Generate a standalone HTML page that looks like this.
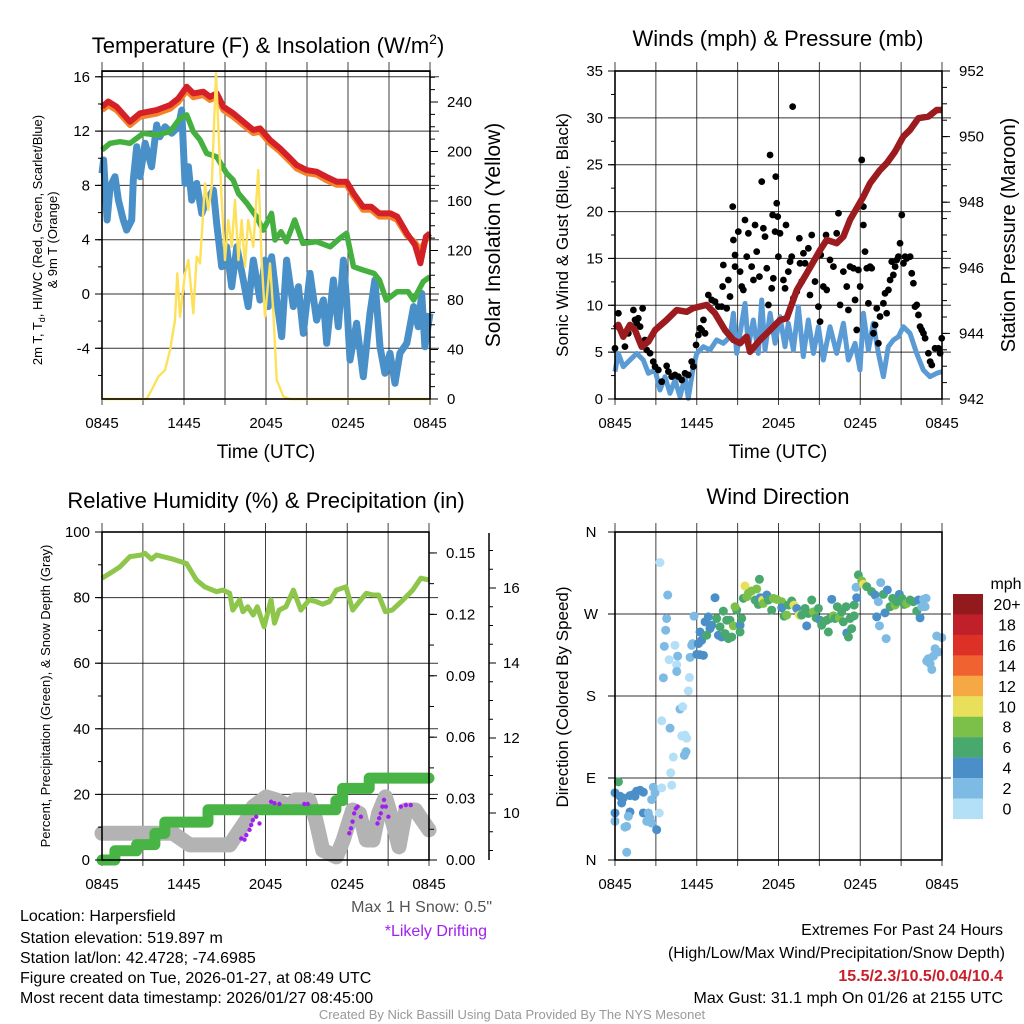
<!DOCTYPE html>
<html><head><meta charset="utf-8"><title>Harpersfield Meteogram</title>
<style>
html,body{margin:0;padding:0;background:#fff;}
svg{display:block;font-family:"Liberation Sans",Arial,sans-serif;}
</style></head>
<body>
<svg id="chart" width="1024" height="1024" viewBox="0 0 1024 1024" xmlns="http://www.w3.org/2000/svg">
<rect x="0" y="0" width="1024" height="1024" fill="#fff"/>
<text x="268" y="53" font-size="22" text-anchor="middle">Temperature (F) &amp; Insolation (W/m<tspan font-size="14" dy="-9">2</tspan><tspan dy="9">)</tspan></text>
<text x="778" y="46" font-size="22" text-anchor="middle">Winds (mph) &amp; Pressure (mb)</text>
<text x="266" y="508" font-size="22" text-anchor="middle">Relative Humidity (%) &amp; Precipitation (in)</text>
<text x="778" y="504" font-size="22" text-anchor="middle">Wind Direction</text>
<text transform="translate(42,240) rotate(-90)" font-size="13" text-anchor="middle">2m T, T<tspan font-size="9" dy="3">d</tspan><tspan dy="-3">, HI/WC (Red, Green, Scarlet/Blue)</tspan></text>
<text transform="translate(57,240) rotate(-90)" font-size="13" text-anchor="middle">&amp; 9m T (Orange)</text>
<text transform="translate(500,235) rotate(-90)" font-size="21" text-anchor="middle">Solar Insolation (Yellow)</text>
<text x="266" y="458" font-size="19" text-anchor="middle">Time (UTC)</text>
<text transform="translate(568,235) rotate(-90)" font-size="17" text-anchor="middle">Sonic Wind &amp; Gust (Blue, Black)</text>
<text transform="translate(1015,235) rotate(-90)" font-size="20" text-anchor="middle">Station Pressure (Maroon)</text>
<text x="778" y="458" font-size="19" text-anchor="middle">Time (UTC)</text>
<text transform="translate(50,696) rotate(-90)" font-size="13" text-anchor="middle">Percent, Precipitation (Green), &amp; Snow Depth (Gray)</text>
<text transform="translate(568,697) rotate(-90)" font-size="17" text-anchor="middle">Direction (Colored By Speed)</text>
<text x="1006" y="589" font-size="16" text-anchor="middle">mph</text>
<text x="492" y="912" font-size="16" fill="#555" text-anchor="end">Max 1 H Snow: 0.5"</text>
<text x="487" y="936" font-size="16" fill="#A020F0" text-anchor="end">*Likely Drifting</text>
<text x="20" y="921" font-size="16">Location: Harpersfield</text>
<text x="20" y="943" font-size="16">Station elevation: 519.897 m</text>
<text x="20" y="963" font-size="16">Station lat/lon: 42.4728; -74.6985</text>
<text x="20" y="983" font-size="16">Figure created on Tue, 2026-01-27, at 08:49 UTC</text>
<text x="20" y="1003" font-size="16">Most recent data timestamp: 2026/01/27 08:45:00</text>
<text x="1003" y="935" font-size="16" text-anchor="end">Extremes For Past 24 Hours</text>
<text x="1005" y="958" font-size="16" text-anchor="end">(High/Low/Max Wind/Precipitation/Snow Depth)</text>
<text x="1003" y="981" font-size="16" font-weight="bold" fill="#C8202A" text-anchor="end">15.5/2.3/10.5/0.04/10.4</text>
<text x="1003" y="1003" font-size="16" text-anchor="end">Max Gust: 31.1 mph On 01/26 at 2155 UTC</text>
<text x="512" y="1019" font-size="13" fill="#999" text-anchor="middle">Created By Nick Bassill Using Data Provided By The NYS Mesonet</text>
</svg>
<script>
const timeTickLabels = ["0845","1445","2045","0245","0845"];
const tempT = [0,0.46,1.07,2.05,2.78,4.0,4.98,5.59,6.2,6.68,7.42,7.9,8.39,8.88,9.6,10.34,11.07,11.56,12.29,13.02,13.76,14.24,14.97,15.7,16.4,17.17,17.9,18.4,19.1,19.7,20.3,21.1,21.6,22.3,22.9,23.3,23.7,24];
const temp2m = [13.8,14.17,13.8,12.69,13.31,13.55,13.92,14.41,15.27,14.78,14.9,14.53,14.78,13.8,13.31,12.69,12.08,12.2,11.35,10.73,10.0,9.5,9.13,9.01,8.64,8.27,8.27,7.42,6.43,6.43,5.94,5.94,5.7,4.47,3.61,2.26,4.22,4.47];
const temp9m = [13.55,13.9,13.55,12.45,13.05,13.3,13.65,14.15,15.0,14.5,14.65,14.3,14.5,13.55,13.05,12.45,11.85,11.95,11.1,10.5,9.75,9.25,8.9,8.8,8.4,8.05,8.05,7.2,6.2,6.2,5.7,5.7,5.45,4.3,3.8,3.2,4.0,4.3];
const wcT = [0,0.59,1.32,2.05,3.02,4.0,4.98,5.71,6.2,6.68,7.17,7.66,8.39,9.12,9.6,9.98,10.6,11.3,11.8,12.4,12.66,13.1,13.5,14.1,14.7,15.7,16.7,17.4,17.9,18.4,19.1,19.9,20.3,20.8,21.6,22.4,22.8,23.5,24];
const wcV = [10.61,11.1,11.22,11.1,11.84,11.71,11.96,12.94,13.19,11.96,11.35,10.36,10.11,8.89,8.4,7.42,6.68,5.7,4.71,5.94,3.98,4.59,3.85,5.45,3.73,3.85,3.48,4.1,4.47,2.01,1.77,1.52,1.03,-0.44,0.17,0.17,-0.44,0.91,1.27];
const dewT = [0,0.12,0.37,0.59,0.95,1.2,1.56,1.8,2.17,2.29,2.54,2.78,3.15,3.63,4.0,4.24,4.61,5.1,5.59,5.83,6.07,6.32,6.56,6.93,7.3,7.66,8.15,8.39,8.76,9.12,9.49,9.86,10.34,10.7,11.07,11.56,11.93,12.17,12.41,12.78,13.15,13.51,14.0,14.37,14.73,15.22,15.7,16.2,16.44,16.93,17.29,17.66,17.9,18.15,18.63,19.12,19.61,19.97,20.34,20.7,21.07,21.44,21.8,22.3,22.8,23.14,23.39,23.63,24];
const dewV = [8.89,9.87,5.45,7.9,8.64,6.92,5.45,4.71,5.45,8.4,10.85,8.64,11.1,9.38,12.45,11.59,12.32,11.84,12.32,13.55,8.15,9.38,6.92,8.15,5.94,6.92,7.66,5.18,2.01,3.48,0.54,3.48,1.03,-0.93,2.5,-0.44,2.5,-0.93,2.75,-0.44,-3.14,2.5,-0.93,0.54,-2.9,1.52,-1.92,-0.44,-3.63,1.03,-2.41,2.5,-0.44,-4.86,-2.16,-6.09,-1.42,1.03,-3.88,-5.84,-4.37,-6.58,-4.37,-3.63,-0.93,-2.41,0.05,-3.88,-1.42];
const solarT = [0,3.27,3.63,3.88,4.12,4.37,4.61,4.98,5.34,5.51,5.71,6.07,6.32,6.68,6.93,7.17,7.54,7.78,8.03,8.34,8.51,8.76,9.0,9.24,9.49,9.73,9.98,10.22,10.46,10.7,11.07,11.44,11.68,11.93,12.29,12.54,12.78,13.27,13.76,24];
const solarV = [0,0,7.3,12.7,18.1,20.7,23.4,39.6,63.8,101.6,66.5,101.6,112.3,69.2,115,109.6,174.3,152.7,171.6,263.2,220,160.8,112.3,144.6,123,160.8,112.3,144.6,106.9,144.6,123,185,112.3,66.5,109.6,69.2,15.4,1.9,0,0];
const tempTicks = [16,12,8,4,0,-4];
const solarTicks = [0,40,80,120,160,200,240];
const windT = [0,0.24,0.61,1.1,1.59,2.08,2.45,2.94,3.3,3.67,4.04,4.4,4.77,5.14,5.38,5.75,6.0,6.49,6.97,7.46,7.95,8.44,8.69,8.93,9.3,9.54,9.79,10.15,10.52,10.77,11.01,11.38,11.75,12.11,12.48,12.72,13.09,13.46,13.82,14.19,14.56,14.93,15.29,15.78,16.27,16.76,17.13,17.62,17.98,18.23,18.6,18.96,19.33,19.7,20.06,20.43,20.8,21.16,21.65,22.14,22.63,23.12,23.61,24];
const windV = [2.92,4.87,3.45,4.16,4.87,4.16,2.74,3.09,0.96,2.38,0.61,2.03,0.25,2.38,0.07,3.45,4.87,5.58,5.23,6.3,5.94,6.65,9.15,4.87,8.08,10.2,5.58,8.43,4.87,10.56,5.23,9.15,5.94,8.78,5.58,8.08,5.23,9.85,4.52,8.43,4.87,7.72,4.16,7.72,4.87,8.08,4.16,5.94,3.09,9.15,5.23,8.08,4.87,2.38,5.58,6.3,6.65,7.72,7.01,4.87,3.09,2.38,2.74,2.92];
const gustT = [0,0.25,0.73,0.98,1.35,1.47,1.71,1.84,2.03,1.59,2.2,2.33,2.57,2.81,2.94,3.18,3.43,3.79,3.92,4.16,4.4,4.65,4.9,5.14,5.38,5.63,5.75,5.95,6.12,6.24,6.36,6.61,6.49,6.85,7.1,7.34,7.59,7.83,8.2,7.95,7.9,8.32,8.44,8.64,8.69,8.81,8.81,9.05,9.18,9.3,9.42,9.54,9.67,9.79,10.03,10.16,10.28,10.4,10.6,10.77,10.89,11.01,11.14,11.26,11.38,11.5,11.57,11.62,11.75,11.8,11.87,11.94,11.99,12.11,12.36,12.48,12.55,12.72,12.85,12.97,13.04,13.09,13.34,13.53,13.58,13.7,13.83,13.95,14.19,14.31,14.44,14.68,14.93,15.05,15.1,15.29,15.49,15.54,15.78,16.03,16.27,16.4,16.52,16.76,17.01,17.13,17.25,17.5,17.62,17.74,17.86,17.99,18.11,18.23,18.23,18.35,18.48,18.6,18.72,18.84,18.97,19.09,19.21,19.33,19.45,19.7,19.82,19.94,20.07,20.19,20.31,20.43,20.56,20.68,20.8,20.92,21.05,21.17,21.29,21.41,21.66,21.78,21.9,22.02,22.15,22.27,22.39,22.51,22.64,22.76,23.0,23.13,23.25,23.49,23.74,23.86,23.98];
const gustV = [5.41,9.15,5.59,7.01,9.5,8.44,8.61,7.72,9.68,8.08,6.3,5.23,4.88,3.99,3.46,3.1,1.85,3.53,2.92,2.39,2.57,2.39,2.03,2.74,2.57,3.99,3.46,5.77,6.83,7.55,7.37,7.01,8.44,11.1,10.57,10.39,9.86,9.86,9.68,14.3,12.0,12.7,10.93,20.53,16.97,15.37,14.13,17.86,13.59,12.0,11.64,19.1,15.19,17.68,14.13,12.7,18.57,15.73,13.06,23.2,18.22,17.33,13.95,10.04,26.04,11.81,19.64,12.88,17.86,23.73,20.89,19.46,15.19,17.68,12.7,11.81,18.57,13.59,14.66,15.19,31.2,10.75,11.46,17.15,14.48,12.53,15.55,14.48,16.08,11.1,17.5,12.53,9.86,8.26,15.37,12.0,17.5,11.64,14.84,14.13,17.68,19.82,10.04,13.59,12.0,9.5,14.13,13.95,10.57,7.37,13.77,12.0,25.51,20.53,18.57,15.73,13.95,10.21,14.13,13.95,7.01,7.9,9.68,5.94,8.8,10.21,11.28,9.15,11.64,12.7,14.66,13.24,14.13,14.84,15.19,16.62,19.64,14.48,15.19,15.0,15.19,13.41,12.35,9.86,10.04,8.97,7.72,7.37,7.01,6.48,4.88,3.99,3.63,5.41,5.41,4.88,6.48];
const presT = [0,0.24,0.61,1.1,1.47,1.96,2.45,2.94,3.79,4.53,5.26,5.75,6.73,7.34,8.07,8.69,9.18,9.66,9.91,10.64,11.38,12.11,12.6,13.34,14.07,15.05,15.54,16.27,16.76,17.25,18.23,18.72,19.45,19.94,20.55,21.16,21.65,22.27,23.0,23.61,24];
const presV = [944.15,944.26,943.9,944.26,944.1,943.59,943.75,944.1,944.41,944.71,944.66,944.77,944.87,944.61,944.1,943.8,943.7,943.9,943.44,943.8,944.1,944.41,944.46,945.32,945.83,946.54,946.85,946.75,946.95,947.46,948.17,948.58,948.98,949.19,949.54,950.0,950.2,950.56,950.61,950.81,950.81];
const windTicks = [0,5,10,15,20,25,30,35];
const presTicks = [942,944,946,948,950,952];
const rhT = [0,0.59,1.32,2.05,2.9,3.15,3.63,4.0,5.22,6.2,6.93,7.54,8.4,8.88,9.37,9.6,10.1,10.34,10.7,11.1,11.4,11.9,12.4,12.66,13.0,13.5,14.05,14.6,15.2,15.7,16.2,16.7,17.2,17.9,18.4,18.9,19.4,19.9,20.3,20.8,21.3,22.1,22.8,23.4,24];
const rhV = [85.9,87.4,89.4,92.5,93.0,93.5,91.7,93.0,91.7,90.4,85.4,83.3,81.8,82.3,81.3,76.2,79.3,75.7,77.2,74.7,77.2,71.1,79.3,72.2,76.2,77.2,82.3,76.2,79.3,78.8,78.0,78.8,82.3,83.3,76.2,78.8,81.3,80.8,80.8,75.7,76.2,79.3,82.3,85.9,85.4];
const precipT = [0,0.95,2.54,3.88,4.61,7.78,17.17,17.66,19.61];
const precipV = [0,0.0045,0.0075,0.013,0.0185,0.0245,0.029,0.035,0.04];
const snowT = [0,5.22,6.44,9.37,10.6,11.1,12.05,12.8,13.76,14.2,15.2,15.7,16.2,17.2,17.7,18.4,18.9,19.4,19.9,20.3,20.8,21.3,21.8,22.3,23.0,23.5,24];
const snowV = [9.46,9.46,9.15,9.15,9.81,10.17,10.43,10.35,10.17,10.35,10.35,9.81,9.01,8.83,9.28,10.08,9.99,9.28,9.28,9.99,10.43,9.81,9.1,10.08,10.08,9.81,9.55];
const driftT = [10.22,10.46,10.59,10.83,10.95,11.07,11.32,11.56,12.41,12.66,13.02,14.85,15.1,18.15,18.27,18.39,18.51,18.63,18.76,19.0,20.22,20.34,20.46,20.58,20.7,20.83,21.02,21.93,22.3,22.66];
const driftS = [9.32,9.29,9.41,9.55,9.68,9.81,9.9,9.72,10.3,10.26,10.24,10.24,10.24,9.46,9.59,9.77,9.99,10.12,10.17,9.9,9.72,9.86,9.99,10.17,10.35,10.17,9.9,10.17,10.21,10.21];
const rhTicks = [0,20,40,60,80,100];
const precipTicks = [0,0.03,0.06,0.09,0.12,0.15];
const precipTickLabels = ["0.00","0.03","0.06","0.09","0.12","0.15"];
const snowTicks = [10,12,14,16];
const dirT = [0.25,0,0.37,0.61,0.49,1.1,1.35,1.59,1.84,1.47,2.08,2.81,2.94,2.69,3.43,0,1.1,2.08,2.45,2.57,2.33,2.69,0.86,0.73,0.98,0,3.06,3.25,0.86,
 3.3,3.87,3.79,3.72,3.62,4.4,3.97,4.6,4.53,4.53,5.46,5.38,3.55,3.43,4.04,4.77,4.97,4.9,5.14,5.26,5.21,5.09,4.28,4.09,4.16,
 5.63,5.7,5.51,5.8,6.0,6.24,6.49,6.12,6.24,6.36,6.61,6.85,6.97,6.73,7.1,7.34,7.46,7.59,7.71,7.83,7.95,8.08,8.2,8.32,8.44,8.57,8.69,8.93,8.81,9.18,9.18,9.3,9.42,9.54,9.67,9.79,10.03,10.28,10.4,10.6,10.52,10.65,10.84,10.89,11.14,11.26,11.5,11.62,11.87,12.24,12.24,12.41,12.6,12.72,12.97,13.14,13.34,13.53,13.7,13.95,14.07,14.19,14.44,14.56,14.76,14.93,15.05,15.17,15.29,15.54,15.66,15.78,15.91,16.03,16.15,16.32,16.47,16.64,16.76,16.96,17.01,17.13,17.25,17.37,17.55,17.55,17.74,17.69,17.86,18.11,18.23,18.48,18.84,19.09,19.33,19.5,19.41,19.9,19.21,19.7,19.82,19.99,20.19,20.38,20.56,20.68,20.87,21.05,21.22,21.41,21.66,21.9,22.15,22.27,22.39,22.51,22.64,22.83,22.76,
 23.61,23.98,23.49,23.74,23.0,23.13,23.25,23.37,22.88];
const dirD = [85.8,73.7,70.0,68.1,62.6,70.7,71.8,75.5,76.6,70.0,74.4,79.9,73.7,66.3,79.2,51.6,52.7,51.6,51.6,46.0,42.4,40.5,36.9,36.1,47.9,42.4,33.2,51.6,8.5,
 326.5,290.8,265.1,252.2,234.5,235.6,219.8,223.8,214.3,206.9,200.3,185.6,199.9,152.8,144.7,165.7,168.3,136.2,137.0,133.7,118.9,114.9,113.0,95.7,82.1,
 235.6,237.5,222.4,267.6,225.7,225.3,224.6,237.5,250.3,241.1,261.4,266.9,254,246.7,257.7,287.9,265.1,246.7,255.9,244.8,273.2,248.5,263.2,243,263.2,244.8,257,274.3,278,257.7,250.3,265.1,287.2,300.8,289,292.7,295.3,285.3,297.5,308.1,280.5,287.9,285.3,281.6,290.8,285.3,274.3,287.2,286.1,283.5,276.9,267.6,268.8,279.8,284.2,279.8,276.1,268.8,268.8,276.1,257,270.6,285.3,272.4,265.8,276.1,263.2,257.7,261.4,263.2,250.3,265.1,286.1,268,265.1,278,265.8,272.4,261.4,278,249.2,244.8,265.1,254,268,279.8,287.9,299.3,312.9,306.3,302.6,300,294.5,290.8,283.5,304.5,257,243,266.9,291.6,271.3,296.4,278,287.2,279.8,283.5,291.6,287.2,280.5,281.6,285.3,283.5,273.2,285.3,265.8,278,286.1,287.2,278,
 245.9,244.1,231.9,228.3,220.9,215.4,209.1,223.8,218.3];
const dirS = [7,5,5,5,5,5,5,5,5,5,5,3,3,3,1,5,5,5,3,3,3,3,3,3,3,3,5,1,3,
 1,3,3,3,3,1,1,3,1,3,1,1,3,1,3,3,1,1,1,1,3,3,1,1,1,
 3,3,3,3,5,5,5,5,5,5,5,5,5,7,5,5,7,5,7,5,7,7,7,7,7,7,9,7,9,5,7,7,7,11,9,9,9,7,9,7,7,5,11,9,5,7,7,9,9,9,5,7,9,7,7,11,5,11,7,7,5,7,7,9,7,7,5,7,7,7,7,7,5,9,7,7,9,7,7,7,5,7,7,7,7,7,5,3,7,9,11,7,7,5,3,3,3,3,5,7,5,5,7,7,9,7,5,7,7,9,7,7,7,5,5,3,3,3,3,
 3,3,3,3,3,3,3,3,3];
const dirTicks = [0,90,180,270,360];
const dirTickLabels = ["N","E","S","W","N"];
const cbarLabels = ["20+","18","16","14","12","10","8","6","4","2","0"];
const cbarColors = ["#921A1C","#C0202A","#DD3127","#F0622F","#F6A845","#E8E05A","#7CC04A","#49A86E","#4A8FC7","#7DBAE4","#B4E0F7"];

const NS = "http://www.w3.org/2000/svg";
const svg = document.getElementById("chart");
function el(tag, attrs, name, parent) {
  const e = document.createElementNS(NS, tag);
  for (const k in attrs) e.setAttribute(k, attrs[k]);
  
  
  (parent || svg).appendChild(e);
  return e;
}
function txt(x, y, s, size, anchor, name, fill) {
  const e = el("text", {x: x, y: y, "font-size": size, "text-anchor": anchor, fill: fill || "#000"}, name);
  e.textContent = s;
  return e;
}
function linePath(ts, vs, xf, yf) {
  let d = "";
  for (let i = 0; i < ts.length; i++) d += (i ? "L" : "M") + xf(ts[i]).toFixed(1) + "," + yf(vs[i]).toFixed(1);
  return d;
}
function panel(P) {
  const g = el("g", {}, P.id + "-grid");
  for (let h = 0; h <= 24; h += 3) {
    el("line", {x1: P.x(h), x2: P.x(h), y1: P.top - 9, y2: P.bot + 6, stroke: "#000", "stroke-width": 1, opacity: 0.75}, P.id + "-vgrid", g);
  }
  P.hgrid.forEach(v => {
    el("line", {x1: P.x0 - 7, x2: P.x1 + 9, y1: P.yL(v), y2: P.yL(v), stroke: "#000", "stroke-width": 1, opacity: 0.8}, P.id + "-hgrid", g);
  });
}
function frame(P) {
  el("rect", {x: P.x0, y: P.top, width: P.x1 - P.x0, height: P.bot - P.top, fill: "none", stroke: "#000", "stroke-width": 1.6}, P.id + "-frame");
  for (let i = 0; i < timeTickLabels.length; i++) {
    txt(P.x(i * 6), P.bot + 29, timeTickLabels[i], 15, "middle", P.id + "-x-tick-label");
  }
}
function leftAxis(P, ticks, labels, minorStep, lo, hi) {
  ticks.forEach((v, i) => {
    el("line", {x1: P.x0 - 7, x2: P.x0, y1: P.yL(v), y2: P.yL(v), stroke: "#000", "stroke-width": 1}, P.id + "-y-tick");
    txt(P.x0 - 12, P.yL(v) + 5, labels ? labels[i] : String(v), 15, "end", P.id + "-y-tick-label");
  });
  if (minorStep) for (let v = lo; v <= hi + 1e-9; v += minorStep) {
    el("line", {x1: P.x0 - 4, x2: P.x0, y1: P.yL(v), y2: P.yL(v), stroke: "#000", "stroke-width": 1}, P.id + "-y-minor-tick");
  }
}
function rightAxis(P, ax, yf, ticks, labels, minorStep, lo, hi, name) {
  ticks.forEach((v, i) => {
    el("line", {x1: ax, x2: ax + 8, y1: yf(v), y2: yf(v), stroke: "#000", "stroke-width": 1}, name + "-tick");
    txt(ax + 17, yf(v) + 5, labels ? labels[i] : String(v), 15, "start", name + "-tick-label");
  });
  if (minorStep) for (let v = lo; v <= hi + 1e-9; v += minorStep) {
    el("line", {x1: ax, x2: ax + 5, y1: yf(v), y2: yf(v), stroke: "#000", "stroke-width": 1}, name + "-minor-tick");
  }
}
function speedColor(s) {
  const idx = Math.min(10, Math.floor(s / 2));
  return cbarColors[10 - idx];
}

// Panel 1
const P1 = {id: "temp", x0: 102, x1: 430, top: 71, bot: 399};
P1.x = t => P1.x0 + t / 24 * (P1.x1 - P1.x0);
P1.yL = v => 294 - v * 13.575;
P1.yR = v => 399 - v * 1.2375;
P1.hgrid = tempTicks;
panel(P1);
el("line", {x1: P1.x0, x2: P1.x1, y1: P1.yL(16.4), y2: P1.yL(16.4), stroke: "#000", "stroke-width": 1}, "temp-top-line");
el("path", {d: linePath(dewT, dewV, P1.x, P1.yL), fill: "none", stroke: "#4A90C8", "stroke-width": 7, "stroke-linejoin": "round"}, "dewpoint-line");
el("path", {d: linePath(wcT, wcV, P1.x, P1.yL), fill: "none", stroke: "#45B03F", "stroke-width": 5.5, "stroke-linejoin": "round"}, "windchill-line");
el("path", {d: linePath(tempT, temp9m, P1.x, P1.yL), fill: "none", stroke: "#F5822A", "stroke-width": 6, "stroke-linejoin": "round"}, "temp-9m-line");
el("path", {d: linePath(tempT, temp2m, P1.x, P1.yL), fill: "none", stroke: "#D42027", "stroke-width": 6, "stroke-linejoin": "round"}, "temp-2m-line");
el("path", {d: linePath(solarT, solarV, P1.x, P1.yR), fill: "none", stroke: "#FDE15A", "stroke-width": 2.4, "stroke-linejoin": "round"}, "insolation-line");
frame(P1);
leftAxis(P1, tempTicks, null, 2, -6, 16);
rightAxis(P1, P1.x1, P1.yR, solarTicks, null, 10, 0, 260, "insolation-axis");

// Panel 2
const P2 = {id: "wind", x0: 615, x1: 942, top: 71, bot: 399};
P2.x = t => P2.x0 + t / 24 * (P2.x1 - P2.x0);
P2.yL = v => 399 - v * 9.371;
P2.yR = v => 399 - (v - 942) * 32.8;
P2.hgrid = windTicks.slice(1, 7);
panel(P2);
el("path", {d: linePath(windT, windV, P2.x, P2.yL), fill: "none", stroke: "#5B9BD5", "stroke-width": 5, "stroke-linejoin": "round"}, "sonic-wind-line");
const gg = el("g", {}, "gust-points");
for (let i = 0; i < gustT.length; i++) {
  el("circle", {cx: P2.x(gustT[i]), cy: P2.yL(gustV[i]), r: 3.4, fill: "#000"}, "gust-point", gg);
}
el("path", {d: linePath(presT, presV, P2.x, P2.yR), fill: "none", stroke: "#9B1B1E", "stroke-width": 6.5, "stroke-linejoin": "round"}, "pressure-line");
frame(P2);
leftAxis(P2, windTicks, null, 2.5, 0, 35);
rightAxis(P2, P2.x1, P2.yR, presTicks, null, 0.5, 942, 952, "pressure-axis");

// Panel 3
const P3 = {id: "rh", x0: 102, x1: 429, top: 532, bot: 860};
P3.x = t => P3.x0 + t / 24 * (P3.x1 - P3.x0);
P3.yL = v => 860 - v * 3.28;
P3.yP = v => 860 - v * 2047;
P3.yS = v => 813 - (v - 10) * 37.5;
P3.hgrid = [20, 40, 60, 80];
panel(P3);
el("path", {d: linePath(snowT, snowV, P3.x, P3.yS), fill: "none", stroke: "#B3B3B3", "stroke-width": 15, "stroke-linejoin": "round", "stroke-linecap": "round"}, "snow-depth-line");
let pd = "";
for (let i = 0; i < precipT.length; i++) {
  const xs = P3.x(precipT[i]), xe = P3.x(i + 1 < precipT.length ? precipT[i + 1] : 24);
  pd += (i ? "L" : "M") + xs.toFixed(1) + "," + P3.yP(precipV[i]).toFixed(1) + "L" + xe.toFixed(1) + "," + P3.yP(precipV[i]).toFixed(1);
}
el("path", {d: pd, fill: "none", stroke: "#48B446", "stroke-width": 11, "stroke-linejoin": "round", "stroke-linecap": "round"}, "precip-line");
const dg = el("g", {}, "drift-points");
for (let i = 0; i < driftT.length; i++) {
  el("circle", {cx: P3.x(driftT[i]), cy: P3.yS(driftS[i]), r: 2.2, fill: "#A020F0"}, "drift-point", dg);
}
el("path", {d: linePath(rhT, rhV, P3.x, P3.yL), fill: "none", stroke: "#8DC64B", "stroke-width": 5, "stroke-linejoin": "round"}, "rh-line");
frame(P3);
leftAxis(P3, rhTicks, null, 10, 0, 100);
rightAxis(P3, P3.x1, P3.yP, precipTicks, precipTickLabels, 0.015, 0, 0.16, "precip-axis");
el("line", {x1: 489, x2: 489, y1: 533, y2: 860, stroke: "#000", "stroke-width": 1.5}, "snow-axis-line");
snowTicks.forEach(v => {
  el("line", {x1: 489, x2: 496, y1: P3.yS(v), y2: P3.yS(v), stroke: "#000", "stroke-width": 1}, "snow-axis-tick");
  txt(503, P3.yS(v) + 5, String(v), 15, "start", "snow-axis-tick-label");
});
for (let v = 9; v <= 17.5; v += 0.5) {
  if (P3.yS(v) > 533 && P3.yS(v) < 860) el("line", {x1: 489, x2: 493, y1: P3.yS(v), y2: P3.yS(v), stroke: "#000", "stroke-width": 1}, "snow-axis-minor-tick");
}

// Panel 4
const P4 = {id: "dir", x0: 615, x1: 942, top: 532, bot: 860};
P4.x = t => P4.x0 + t / 24 * (P4.x1 - P4.x0);
P4.yL = d => 860 - d * 328 / 360;
P4.hgrid = [90, 180, 270];
panel(P4);
const wg = el("g", {}, "direction-points");
for (let i = 0; i < dirT.length; i++) {
  el("circle", {cx: P4.x(dirT[i]), cy: P4.yL(dirD[i]), r: 4.5, fill: speedColor(dirS[i])}, "direction-point", wg);
}
frame(P4);
dirTicks.forEach((v, i) => {
  el("line", {x1: P4.x0 - 7, x2: P4.x0, y1: P4.yL(v), y2: P4.yL(v), stroke: "#000", "stroke-width": 1}, "dir-y-tick");
  txt(591, P4.yL(v) + 5, dirTickLabels[i], 15, "middle", "dir-y-tick-label");
});
const cb = el("g", {}, "speed-colorbar");
for (let i = 0; i < cbarColors.length; i++) {
  const y = 594 + i * 20.45;
  el("rect", {x: 953, y: y, width: 30, height: 20.6, fill: cbarColors[i]}, "colorbar-box", cb);
  txt(1007, y + 16, cbarLabels[i], 16, "middle", "colorbar-label");
}
</script>
</body></html>
